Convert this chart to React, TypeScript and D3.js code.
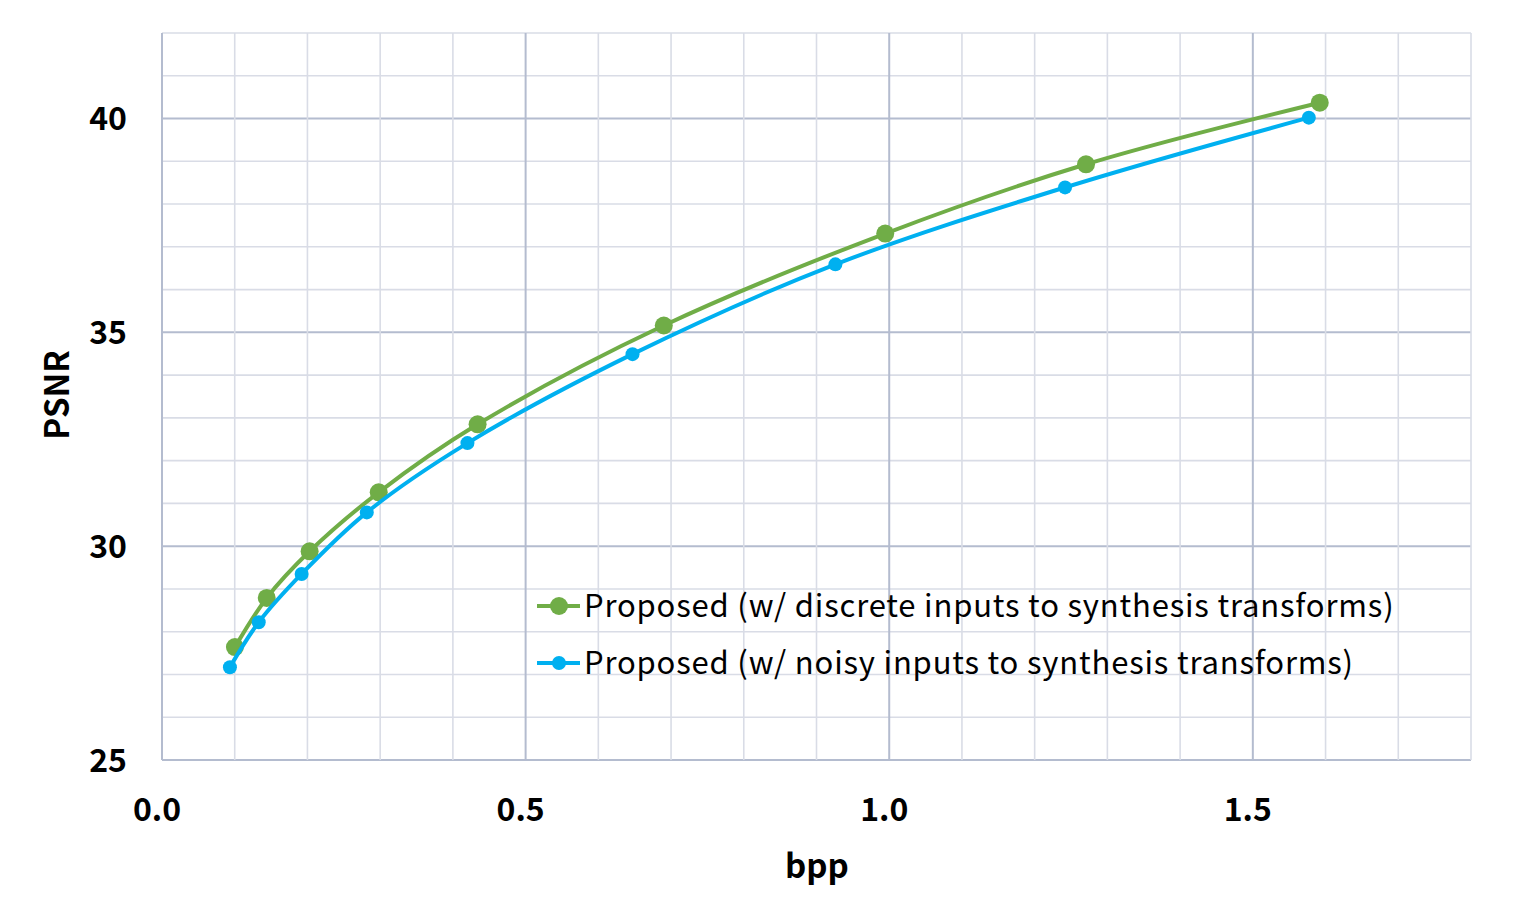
import React from "react";
import * as d3 from "d3";

const discreteBpp = [0.1003, 0.144, 0.203, 0.298, 0.434, 0.69, 0.9945, 1.2706, 1.592];
const discretePsnr = [27.64, 28.79, 29.88, 31.26, 32.85, 35.16, 37.31, 38.93, 40.37];
const noisyBpp = [0.0934, 0.133, 0.192, 0.2816, 0.42, 0.647, 0.926, 1.2418, 1.577];
const noisyPsnr = [27.17, 28.22, 29.35, 30.79, 32.41, 34.49, 36.59, 38.39, 40.02];
const xTickLabels = [0.0, 0.5, 1.0, 1.5];
const yTickLabels = [25, 30, 35, 40];
const seriesNames = [
  "Proposed (w/ discrete inputs to synthesis transforms)",
  "Proposed (w/ noisy inputs to synthesis transforms)",
];

const W = 1524, H = 919;
const FONT = "'Noto Sans CJK KR', 'Noto Sans', sans-serif";

export default function App() {
  const x = d3.scaleLinear().domain([0, 1.8]).range([162, 1471]);
  const y = d3.scaleLinear().domain([25, 42]).range([760, 33]);
  const xMinor = d3.range(0, 18.01, 1).map((v) => v / 10);
  const yMinor = d3.range(25, 42.01, 1);
  const line = d3
    .line<[number, number]>()
    .x((d) => x(d[0]))
    .y((d) => y(d[1]))
    .curve(d3.curveCatmullRom.alpha(0.5));
  const series = [
    { name: seriesNames[0], color: "#70ad47", r: 9, pts: discreteBpp.map((b, i) => [b, discretePsnr[i]] as [number, number]) },
    { name: seriesNames[1], color: "#00b0f0", r: 7, pts: noisyBpp.map((b, i) => [b, noisyPsnr[i]] as [number, number]) },
  ];
  const isMajorX = (v: number) => Math.abs(Math.round(v * 2) - v * 2) < 1e-6;
  const isMajorY = (v: number) => v % 5 === 0;
  return (
    <svg width={W} height={H} style={{ position: "absolute", left: 0, top: 0, background: "#fff" }}>
      <rect x={0} y={0} width={W} height={H} fill="#fff" />
      {yMinor.map((v) => (
        <line key={"y" + v} x1={x(0)} x2={x(1.8)} y1={y(v)} y2={y(v)}
          stroke={isMajorY(v) ? "#b4bccf" : "#d9dce6"} strokeWidth={isMajorY(v) ? 2 : 1.6} />
      ))}
      {xMinor.map((v) => (
        <line key={"x" + v} x1={x(v)} x2={x(v)} y1={y(25)} y2={y(42)}
          stroke={isMajorX(v) ? "#b4bccf" : "#d9dce6"} strokeWidth={isMajorX(v) ? 2 : 1.6} />
      ))}
      {series.map((s) => (
        <g key={s.name}>
          <path d={line(s.pts) || ""} fill="none" stroke={s.color} strokeWidth={4} />
          {s.pts.map((p, i) => (
            <circle key={i} cx={x(p[0])} cy={y(p[1])} r={s.r} fill={s.color} />
          ))}
        </g>
      ))}
      {yTickLabels.map((v) => (
        <text key={"yl" + v} x={127} y={y(v)} dy="0.36em" textAnchor="end"
          fontFamily={FONT} fontWeight="bold" fontSize={32} fill="#000">{v}</text>
      ))}
      {xTickLabels.map((v) => (
        <text key={"xl" + v} x={x(v) - 5} y={809} dy="0.36em" textAnchor="middle"
          fontFamily={FONT} fontWeight="bold" fontSize={32} fill="#000">{v.toFixed(1)}</text>
      ))}
      <text x={817} y={866} dy="0.36em" textAnchor="middle" fontFamily={FONT} fontWeight="bold" fontSize={33}>bpp</text>
      <text transform="translate(57,395) rotate(-90)" dy="0.36em" textAnchor="middle" fontFamily={FONT} fontWeight="bold" fontSize={33}>PSNR</text>
      {series.map((s, i) => {
        const ly = 606 + i * 57;
        return (
          <g key={"lg" + i}>
            <line x1={537} x2={580} y1={ly} y2={ly} stroke={s.color} strokeWidth={4} />
            <circle cx={559} cy={ly} r={s.r} fill={s.color} />
            <text x={584} y={ly} dy="0.36em" fontFamily={FONT} fontSize={31} letterSpacing={0.82} fill="#000">{s.name}</text>
          </g>
        );
      })}
    </svg>
  );
}
